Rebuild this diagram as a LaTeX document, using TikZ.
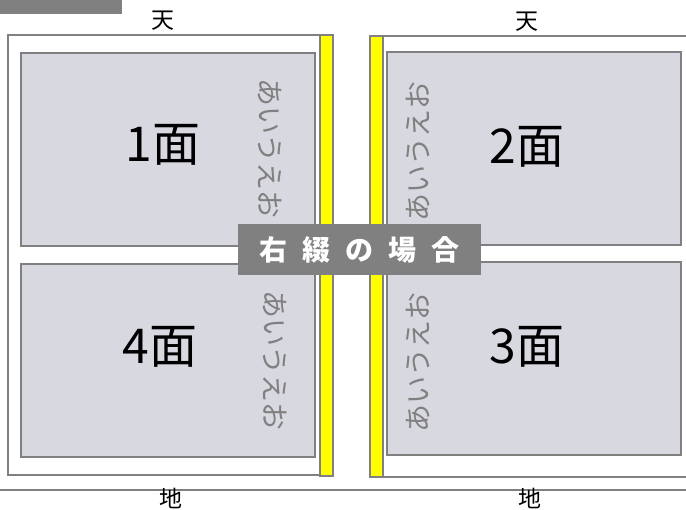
\documentclass[tikz,border=0pt]{standalone}
\usepackage{fontspec}
\setmainfont{Noto Sans CJK JP}
\definecolor{panelfill}{RGB}{216,216,224}
\definecolor{edgegray}{RGB}{128,128,128}
\definecolor{bindyellow}{RGB}{255,255,0}
\begin{document}
\begin{tikzpicture}[x=1pt,y=-1pt,
  page/.style={draw=edgegray,line width=1.5pt,fill=white},
  strip/.style={draw=edgegray,line width=1.5pt,fill=bindyellow},
  panel/.style={draw=edgegray,line width=2pt,fill=panelfill,font=\fontsize{48}{48}\selectfont},
  kana/.style={text=edgegray,font=\fontsize{28}{28}\selectfont,inner sep=0pt},
  edge/.style={font=\fontsize{23}{23}\selectfont,inner sep=0pt}]
  \useasboundingbox (0,0) rectangle (686,510);
  \clip (0,0) rectangle (686,510);
  % tab
  \fill[edgegray] (0,0) rectangle (122,14);
  % left page
  \draw[page] (8,35) rectangle (333,475);
  \draw[strip] (320,35) rectangle (333,476);
  \draw[panel] (21,53) rectangle (315,246);
  \draw[panel] (21,264) rectangle (315,457);
  \node[panel,draw=none,fill=none] (p1) at (163,145) {1面};
  \node[panel,draw=none,fill=none] (p4) at (160,347) {4面};
  \node[kana,rotate=-90] (k1) at (270,149) {あいうえお};
  \node[kana,rotate=-90] (k4) at (275,361) {あいうえお};
  % right page
  \draw[page] (370,36) rectangle (692,477);
  \draw[strip] (370,36) rectangle (383,477);
  \draw[panel] (387,52) rectangle (681,245);
  \draw[panel] (387,262) rectangle (681,455);
  \node[panel,draw=none,fill=none] (p2) at (527,147) {2面};
  \node[panel,draw=none,fill=none] (p3) at (527,347) {3面};
  \node[kana,rotate=90] (k2) at (418,152) {あいうえお};
  \node[kana,rotate=90] (k3) at (418,363) {あいうえお};
  % labels
  \node[edge] (ten1) at (163,21) {天};
  \node[edge] (ten2) at (527,22) {天};
  \draw[edgegray,line width=1.2pt] (0,490) -- (686,490);
  \node[edge] (chi1) at (171,498) {地};
  \node[edge] (chi2) at (530,498) {地};
  \node[fill=edgegray,text=white,minimum width=243,minimum height=51,inner sep=0pt,
    font=\fontsize{28}{28}\selectfont\bfseries] (title) at (359.5,249.5)
    {右\hspace{15pt}綴\hspace{15pt}の\hspace{15pt}場\hspace{15pt}合};
\end{tikzpicture}
\end{document}
